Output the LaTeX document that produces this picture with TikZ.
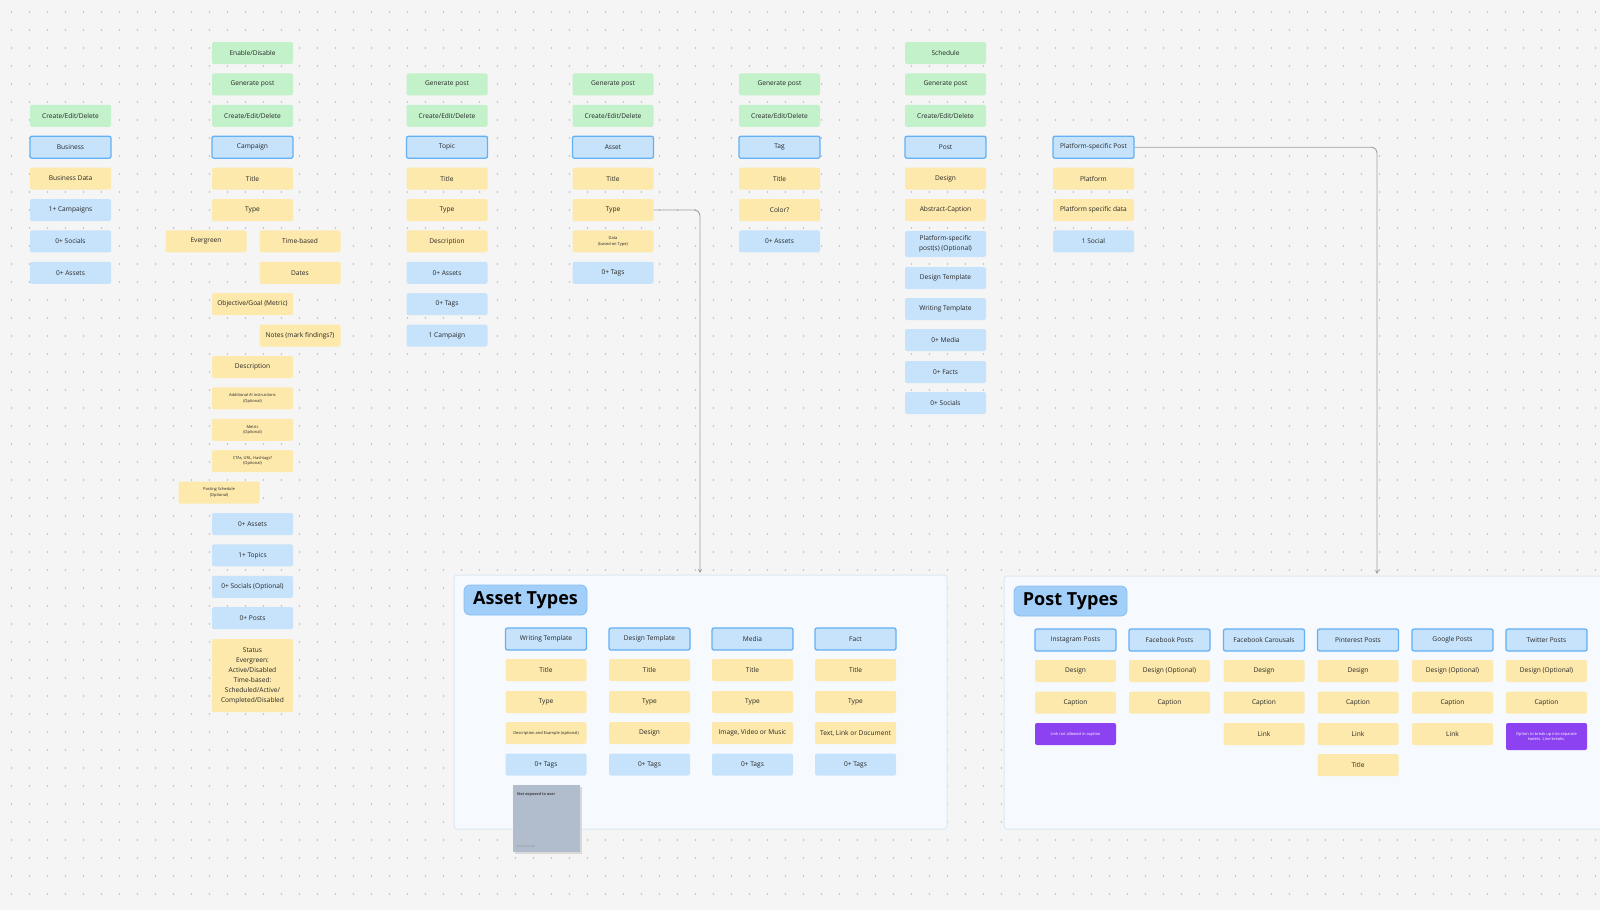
\documentclass[tikz,border=0pt]{standalone}
\usepackage{fontspec}
\setmainfont{Open Sans}
\usetikzlibrary{arrows.meta}
\definecolor{bg}{HTML}{F5F5F5}
\definecolor{dotc}{HTML}{BDBDBD}
\definecolor{grn}{HTML}{C2F1CA}
\definecolor{ylw}{HTML}{FDE9AB}
\definecolor{blu}{HTML}{C7E3FB}
\definecolor{entb}{HTML}{64B0F4}
\definecolor{purp}{HTML}{8C42F0}
\definecolor{txt}{HTML}{262626}
\definecolor{framef}{HTML}{F6FAFF}
\definecolor{framed}{HTML}{DDE8F3}
\definecolor{titlef}{HTML}{A2CFFA}
\definecolor{titled}{HTML}{86BDF0}
\definecolor{notef}{HTML}{B1BDCD}
\definecolor{linec}{HTML}{A0A0A0}
\tikzset{
  base/.style={rounded corners=2pt, minimum width=81pt, minimum height=22pt, inner sep=1pt,
    align=center, font=\fontsize{6.6}{10}\selectfont, text=txt},
  gbox/.style={base, fill=grn},
  ybox/.style={base, fill=ylw},
  bbox/.style={base, fill=blu},
  ent/.style={base, fill=blu, draw=entb, line width=1.3pt},
  tinyf/.style={font=\fontsize{4}{5.5}\selectfont},
  pbox/.style={base, fill=purp, text=white, tinyf},
  frame/.style={fill=framef, draw=framed, line width=1pt, rounded corners=3pt},
  ttl/.style={fill=titlef, draw=titled, line width=0.8pt, rounded corners=6pt, minimum height=30pt,
    inner sep=0pt, font=\fontsize{18}{20}\selectfont\bfseries, text=black},
  conn/.style={draw=linec, line width=0.9pt, rounded corners=6pt, -{Stealth[length=4pt,width=4pt]}},
}
\begin{document}
\begin{tikzpicture}[x=1pt,y=-1pt]
\fill[bg] (0,0) rectangle (1600,910);
\useasboundingbox (0,0) rectangle (1600,910);
\foreach \i in {0,...,88} {
  \foreach \j in {0,...,50} {
    \fill[dotc] (11.5+18*\i, 12+18*\j) circle (0.85pt);
  }
}
% frames
\draw[frame] (454,575) rectangle (947,829);
\draw[frame] (1004,576) rectangle (1610,829);

% Business column
\node[gbox] (bcrud) at (70.5,115.8) {Create/Edit/Delete};
\node[ent]  (bus)   at (70.5,147.2) {Business};
\node[ybox] (bdata) at (70.5,178.6) {Business Data};
\node[bbox] (bcamp) at (70.5,210) {1+ Campaigns};
\node[bbox] (bsoc)  at (70.5,241.4) {0+ Socials};
\node[bbox] (bass)  at (70.5,272.8) {0+ Assets};

% Campaign column
\node[gbox] (cen)   at (252.5,53) {Enable/Disable};
\node[gbox] (cgen)  at (252.5,84.4) {Generate post};
\node[gbox] (ccrud) at (252.5,115.8) {Create/Edit/Delete};
\node[ent]  (camp)  at (252.5,147.2) {Campaign};
\node[ybox] (ctit)  at (252.5,178.6) {Title};
\node[ybox] (ctyp)  at (252.5,210) {Type};
\node[ybox] (cever) at (206,241.4) {Evergreen};
\node[ybox] (ctime) at (300,241.4) {Time-based};
\node[ybox] (cdate) at (300,272.8) {Dates};
\node[ybox] (cobj)  at (252.5,304.2) {Objective/Goal (Metric)};
\node[ybox] (cnote) at (300,335.6) {Notes (mark findings?)};
\node[ybox] (cdesc) at (252.5,367) {Description};
\node[ybox,tinyf] (cai)  at (252.5,398.4) {Additional AI instructions\\(Optional)};
\node[ybox,tinyf] (cmet) at (252.5,429.8) {Metric\\(Optional)};
\node[ybox,tinyf] (ccta) at (252.5,461.2) {CTAs, URL, Hashtags?\\(Optional)};
\node[ybox,tinyf] (csch) at (219,492.6) {Posting Schedule\\(Optional)};
\node[bbox] (cass)  at (252.5,524) {0+ Assets};
\node[bbox] (ctop)  at (252.5,555.4) {1+ Topics};
\node[bbox] (csoc)  at (252.5,586.8) {0+ Socials (Optional)};
\node[bbox] (cpost) at (252.5,618.2) {0+ Posts};
\node[ybox, minimum height=73pt] (cstat) at (252.5,675.5) {Status\\Evergreen:\\Active/Disabled\\Time-based:\\Scheduled/Active/\\Completed/Disabled};

% Topic column
\node[gbox] (tgen)  at (447,84.4) {Generate post};
\node[gbox] (tcrud) at (447,115.8) {Create/Edit/Delete};
\node[ent]  (topic) at (447,147.2) {Topic};
\node[ybox] (ttit)  at (447,178.6) {Title};
\node[ybox] (ttyp)  at (447,210) {Type};
\node[ybox] (tdesc) at (447,241.4) {Description};
\node[bbox] (tass)  at (447,272.8) {0+ Assets};
\node[bbox] (ttag)  at (447,304.2) {0+ Tags};
\node[bbox] (tcamp) at (447,335.6) {1 Campaign};

% Asset column
\node[gbox] (agen)  at (613,84.4) {Generate post};
\node[gbox] (acrud) at (613,115.8) {Create/Edit/Delete};
\node[ent]  (asset) at (613,147.2) {Asset};
\node[ybox] (atit)  at (613,178.6) {Title};
\node[ybox] (atype) at (613,210) {Type};
\node[ybox,tinyf] (adata) at (613,241.4) {Data\\(based on Type)};
\node[bbox] (atag)  at (613,272.8) {0+ Tags};

% Tag column
\node[gbox] (ggen)  at (779.5,84.4) {Generate post};
\node[gbox] (gcrud) at (779.5,115.8) {Create/Edit/Delete};
\node[ent]  (tag)   at (779.5,147.2) {Tag};
\node[ybox] (gtit)  at (779.5,178.6) {Title};
\node[ybox] (gcol)  at (779.5,210) {Color?};
\node[bbox] (gass)  at (779.5,241.4) {0+ Assets};

% Post column
\node[gbox] (psch)  at (945.5,53) {Schedule};
\node[gbox] (pgen)  at (945.5,84.4) {Generate post};
\node[gbox] (pcrud) at (945.5,115.8) {Create/Edit/Delete};
\node[ent]  (post)  at (945.5,147.2) {Post};
\node[ybox] (pdes)  at (945.5,178.6) {Design};
\node[ybox] (pabs)  at (945.5,210) {Abstract-Caption};
\node[bbox, minimum height=26pt] (pplat) at (945.5,244) {Platform-specific\\post(s) (Optional)};
\node[bbox] (pdt)   at (945.5,278) {Design Template};
\node[bbox] (pwt)   at (945.5,309) {Writing Template};
\node[bbox] (pmed)  at (945.5,340) {0+ Media};
\node[bbox] (pfac)  at (945.5,372) {0+ Facts};
\node[bbox] (psoc)  at (945.5,403) {0+ Socials};

% Platform-specific post column
\node[ent]  (psp)   at (1093.5,147.2) {Platform-specific Post};
\node[ybox] (splat) at (1093.5,178.6) {Platform};
\node[ybox] (sdata) at (1093.5,210) {Platform specific data};
\node[bbox] (ssoc)  at (1093.5,241.4) {1 Social};

% Asset Types
\node[ttl, minimum width=123pt] (attl) at (525.5,600) {Asset Types};
\node[ent]  (wt)   at (546,639) {Writing Template};
\node[ybox] (wt1)  at (546,670) {Title};
\node[ybox] (wt2)  at (546,702) {Type};
\node[ybox,tinyf] (wt3) at (546,733) {Description and Example (optional)};
\node[bbox] (wt4)  at (546,764.5) {0+ Tags};
\node[ent]  (dt)   at (649.5,639) {Design Template};
\node[ybox] (dt1)  at (649.5,670) {Title};
\node[ybox] (dt2)  at (649.5,702) {Type};
\node[ybox] (dt3)  at (649.5,733) {Design};
\node[bbox] (dt4)  at (649.5,764.5) {0+ Tags};
\node[ent]  (med)  at (752.5,639) {Media};
\node[ybox] (med1) at (752.5,670) {Title};
\node[ybox] (med2) at (752.5,702) {Type};
\node[ybox] (med3) at (752.5,733) {Image, Video or Music};
\node[bbox] (med4) at (752.5,764.5) {0+ Tags};
\node[ent]  (fac)  at (855.5,639) {Fact};
\node[ybox] (fac1) at (855.5,670) {Title};
\node[ybox] (fac2) at (855.5,702) {Type};
\node[ybox] (fac3) at (855.5,733) {Text, Link or Document};
\node[bbox] (fac4) at (855.5,764.5) {0+ Tags};
% sticky note
\fill[black!15] (514.5,786.5) rectangle (581.5,853.5);
\node[fill=notef, minimum width=67pt, minimum height=67pt, inner sep=0pt] (note) at (546.5,818.5) {};
\node[anchor=north west, inner sep=0pt, font=\fontsize{3.8}{5}\selectfont\bfseries, text=black!75] (notet) at (517,792) {Not exposed to user};
\node[anchor=south west, inner sep=0pt, font=\fontsize{3}{4}\selectfont, text=black!45] (notea) at (517,848) {Kristie Druell};

% Post Types
\node[ttl, minimum width=113pt] (pttl) at (1070.5,601) {Post Types};
\node[ent]  (ig)   at (1075.5,640) {Instagram Posts};
\node[ybox] (ig1)  at (1075.5,671) {Design};
\node[ybox] (ig2)  at (1075.5,702.7) {Caption};
\node[pbox] (ig3)  at (1075.5,734) {Link not allowed in caption};
\node[ent]  (fb)   at (1169.5,640) {Facebook Posts};
\node[ybox] (fb1)  at (1169.5,671) {Design (Optional)};
\node[ybox] (fb2)  at (1169.5,702.7) {Caption};
\node[ent]  (fc)   at (1264,640) {Facebook Carousals};
\node[ybox] (fc1)  at (1264,671) {Design};
\node[ybox] (fc2)  at (1264,702.7) {Caption};
\node[ybox] (fc3)  at (1264,734) {Link};
\node[ent]  (pin)  at (1358,640) {Pinterest Posts};
\node[ybox] (pin1) at (1358,671) {Design};
\node[ybox] (pin2) at (1358,702.7) {Caption};
\node[ybox] (pin3) at (1358,734) {Link};
\node[ybox] (pin4) at (1358,765) {Title};
\node[ent]  (goo)  at (1452.5,640) {Google Posts};
\node[ybox] (goo1) at (1452.5,671) {Design (Optional)};
\node[ybox] (goo2) at (1452.5,702.7) {Caption};
\node[ybox] (goo3) at (1452.5,734) {Link};
\node[ent]  (tw)   at (1546.5,640) {Twitter Posts};
\node[ybox] (tw1)  at (1546.5,671) {Design (Optional)};
\node[ybox] (tw2)  at (1546.5,702.7) {Caption};
\node[pbox, minimum height=27pt] (tw3) at (1546.5,736.5) {Option to break up into separate\\tweets. Line breaks.};

% connectors
\coordinate (aend) at (700,573);
\coordinate (pend) at (1377,574);
\draw[conn] (atype.east) -| (aend);
\draw[conn] (psp.east) -| (pend);
\end{tikzpicture}
\end{document}
